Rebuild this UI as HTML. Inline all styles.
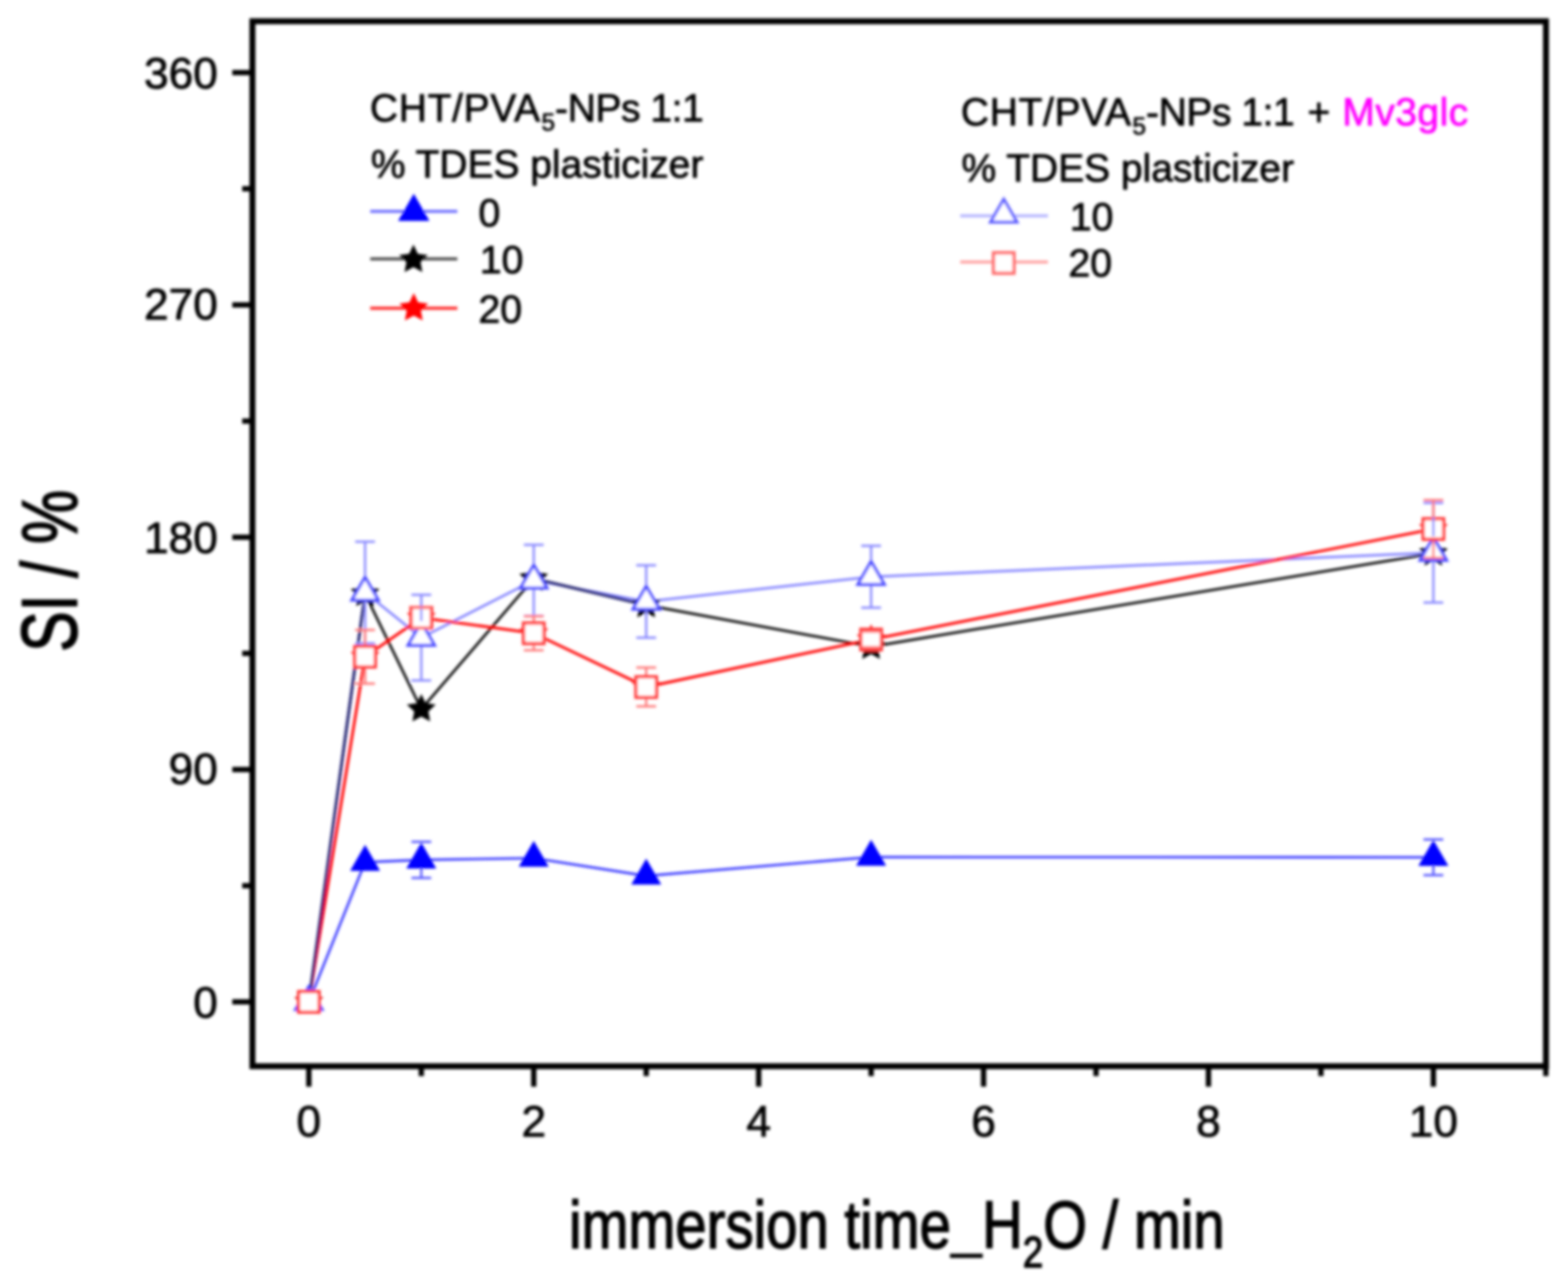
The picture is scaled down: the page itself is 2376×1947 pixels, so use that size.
<!DOCTYPE html>
<html><head><meta charset="utf-8"><title>SI vs immersion time</title>
<style>html,body{margin:0;padding:0;background:#fff;overflow:hidden;} svg{display:block;}</style>
</head><body>
<svg width="2376" height="1947" viewBox="0 0 2376 1947">
<defs><filter id="bl" x="0" y="0" width="2376" height="1947" filterUnits="userSpaceOnUse"><feGaussianBlur stdDeviation="2.0"/></filter></defs>
<rect width="2376" height="1947" fill="#ffffff"/>
<g filter="url(#bl)">
<path d="M352.0,1518.0H382.5M352.0,1166.0H382.5M352.0,814.0H382.5M352.0,462.0H382.5M352.0,110.0H382.5M367.0,1342.0H382.5M367.0,990.0H382.5M367.0,638.0H382.5M367.0,286.0H382.5M468.0,1615.5V1646.5M808.8,1615.5V1646.5M1149.6,1615.5V1646.5M1490.4,1615.5V1646.5M1831.2,1615.5V1646.5M2172.0,1615.5V1646.5M638.4,1615.5V1630.5M979.2,1615.5V1630.5M1320.0,1615.5V1630.5M1660.8,1615.5V1630.5M2001.6,1615.5V1630.5M2342.4,1615.5V1630.5" stroke="#000" stroke-width="8.0" fill="none"/>
<polyline points="468.0,1518.0 553.2,897.7 638.4,966.2 808.8,879.3 979.2,911.4 1320.0,873.9 2172.0,837.5" fill="none" stroke="#7c7cff" stroke-width="3.5" stroke-linejoin="round" stroke-linecap="round" />
<polyline points="468.0,1518.0 553.2,1306.4 638.4,1302.9 808.8,1300.2 979.2,1327.1 1320.0,1298.6 2172.0,1299.0" fill="none" stroke="#3434ff" stroke-width="3.6" stroke-linejoin="round" stroke-linecap="round" />
<polyline points="468.0,1518.0 553.2,899.7 638.4,1074.5 808.8,876.6 979.2,916.9 1320.0,979.8 2172.0,838.3" fill="none" stroke="#000000" stroke-width="3.7" stroke-linejoin="round" stroke-linecap="round" />
<polyline points="468.0,1518.0 553.2,995.1 638.4,936.0 808.8,959.5 979.2,1040.9 1320.0,968.9 2172.0,801.5" fill="none" stroke="#ff0000" stroke-width="4.1" stroke-linejoin="round" stroke-linecap="round" />
<path d="M468.0,1518.0L553.2,899.7M808.8,876.6L979.2,916.9" stroke="#1c1c70" stroke-width="4" fill="none" stroke-linecap="round"/>
<path d="M468.0,1495.0L474.6,1508.9L489.9,1510.9L478.7,1521.5L481.5,1536.6L468.0,1529.2L454.5,1536.6L457.3,1521.5L446.1,1510.9L461.4,1508.9Z" fill="#000"/>
<path d="M553.2,876.7L559.8,890.6L575.1,892.6L563.9,903.1L566.7,918.3L553.2,910.9L539.7,918.3L542.5,903.1L531.3,892.6L546.6,890.6Z" fill="#000"/>
<path d="M638.4,1051.5L645.0,1065.4L660.3,1067.4L649.1,1078.0L651.9,1093.1L638.4,1085.7L624.9,1093.1L627.7,1078.0L616.5,1067.4L631.8,1065.4Z" fill="#000"/>
<path d="M808.8,853.6L815.4,867.5L830.7,869.5L819.5,880.1L822.3,895.2L808.8,887.8L795.3,895.2L798.1,880.1L786.9,869.5L802.2,867.5Z" fill="#000"/>
<path d="M979.2,893.9L985.8,907.8L1001.1,909.8L989.9,920.3L992.7,935.5L979.2,928.1L965.7,935.5L968.5,920.3L957.3,909.8L972.6,907.8Z" fill="#000"/>
<path d="M1320.0,956.8L1326.6,970.8L1341.9,972.7L1330.7,983.3L1333.5,998.5L1320.0,991.0L1306.5,998.5L1309.3,983.3L1298.1,972.7L1313.4,970.8Z" fill="#000"/>
<path d="M2172.0,815.3L2178.6,829.2L2193.9,831.2L2182.7,841.7L2185.5,856.9L2172.0,849.5L2158.5,856.9L2161.3,841.7L2150.1,831.2L2165.4,829.2Z" fill="#000"/>
<path d="M553.2,1280.1L576.0,1319.5L530.5,1319.5Z" fill="#0000ff"/>
<path d="M638.4,1276.6L661.1,1316.0L615.6,1316.0Z" fill="#0000ff"/>
<path d="M808.8,1273.9L831.5,1313.3L786.0,1313.3Z" fill="#0000ff"/>
<path d="M979.2,1300.9L1002.0,1340.3L956.5,1340.3Z" fill="#0000ff"/>
<path d="M1320.0,1272.3L1342.8,1311.7L1297.2,1311.7Z" fill="#0000ff"/>
<path d="M2172.0,1272.7L2194.8,1312.1L2149.2,1312.1Z" fill="#0000ff"/>
<path d="M468.0,1495.0L474.6,1508.9L489.9,1510.9L478.7,1521.5L481.5,1536.6L468.0,1529.2L454.5,1536.6L457.3,1521.5L446.1,1510.9L461.4,1508.9Z" fill="#ff0000"/>
<path d="M553.2,972.1L559.8,986.0L575.1,988.0L563.9,998.6L566.7,1013.7L553.2,1006.3L539.7,1013.7L542.5,998.6L531.3,988.0L546.6,986.0Z" fill="#ff0000"/>
<path d="M638.4,913.0L645.0,927.0L660.3,928.9L649.1,939.5L651.9,954.7L638.4,947.2L624.9,954.7L627.7,939.5L616.5,928.9L631.8,927.0Z" fill="#ff0000"/>
<path d="M808.8,936.5L815.4,950.4L830.7,952.4L819.5,963.0L822.3,978.1L808.8,970.7L795.3,978.1L798.1,963.0L786.9,952.4L802.2,950.4Z" fill="#ff0000"/>
<path d="M979.2,1017.9L985.8,1031.8L1001.1,1033.8L989.9,1044.3L992.7,1059.5L979.2,1052.1L965.7,1059.5L968.5,1044.3L957.3,1033.8L972.6,1031.8Z" fill="#ff0000"/>
<path d="M1320.0,945.9L1326.6,959.8L1341.9,961.8L1330.7,972.4L1333.5,987.5L1320.0,980.1L1306.5,987.5L1309.3,972.4L1298.1,961.8L1313.4,959.8Z" fill="#ff0000"/>
<path d="M2172.0,778.5L2178.6,792.4L2193.9,794.4L2182.7,805.0L2185.5,820.1L2172.0,812.7L2158.5,820.1L2161.3,805.0L2150.1,794.4L2165.4,792.4Z" fill="#ff0000"/>
<path d="M468.0,1494.9L488.0,1529.5L448.0,1529.5Z" fill="#fff" stroke="#4a4aff" stroke-width="4.5" stroke-linejoin="miter"/>
<path d="M553.2,874.6L573.2,909.3L533.2,909.3Z" fill="#fff" stroke="#4a4aff" stroke-width="4.5" stroke-linejoin="miter"/>
<path d="M638.4,943.1L658.4,977.7L618.4,977.7Z" fill="#fff" stroke="#4a4aff" stroke-width="4.5" stroke-linejoin="miter"/>
<path d="M808.8,856.2L828.8,890.9L788.8,890.9Z" fill="#fff" stroke="#4a4aff" stroke-width="4.5" stroke-linejoin="miter"/>
<path d="M979.2,888.3L999.2,923.0L959.2,923.0Z" fill="#fff" stroke="#4a4aff" stroke-width="4.5" stroke-linejoin="miter"/>
<path d="M1320.0,850.8L1340.0,885.4L1300.0,885.4Z" fill="#fff" stroke="#4a4aff" stroke-width="4.5" stroke-linejoin="miter"/>
<path d="M2172.0,814.4L2192.0,849.0L2152.0,849.0Z" fill="#fff" stroke="#4a4aff" stroke-width="4.5" stroke-linejoin="miter"/>
<path d="M452.5,1502.5h31.0v31.0h-31.0Z" fill="#fff" stroke="#ff3a3a" stroke-width="5.0"/>
<path d="M537.7,979.6h31.0v31.0h-31.0Z" fill="#fff" stroke="#ff3a3a" stroke-width="5.0"/>
<path d="M622.9,920.5h31.0v31.0h-31.0Z" fill="#fff" stroke="#ff3a3a" stroke-width="5.0"/>
<path d="M793.3,944.0h31.0v31.0h-31.0Z" fill="#fff" stroke="#ff3a3a" stroke-width="5.0"/>
<path d="M963.7,1025.4h31.0v31.0h-31.0Z" fill="#fff" stroke="#ff3a3a" stroke-width="5.0"/>
<path d="M1304.5,953.4h31.0v31.0h-31.0Z" fill="#fff" stroke="#ff3a3a" stroke-width="5.0"/>
<path d="M2156.5,786.0h31.0v31.0h-31.0Z" fill="#fff" stroke="#ff3a3a" stroke-width="5.0"/>
<path d="M553.2,820.7V872.6M553.2,911.3V974.8M538.2,820.7H568.2M538.2,974.8H568.2M638.4,901.2V941.1M638.4,979.7V1031.1M623.4,901.2H653.4M623.4,1031.1H653.4M808.8,825.4V854.2M808.8,892.9V933.3M793.8,825.4H823.8M793.8,933.3H823.8M979.2,856.6V886.3M979.2,925.0V966.2M964.2,856.6H994.2M964.2,966.2H994.2M1320.0,826.9V848.8M1320.0,887.4V920.8M1305.0,826.9H1335.0M1305.0,920.8H1335.0M2172.0,762.0V812.4M2172.0,851.0V913.0M2157.0,762.0H2187.0M2157.0,913.0H2187.0" stroke="#8a8aff" stroke-width="3.5" fill="none"/>
<path d="M553.2,954.4V977.6M553.2,1012.6V1035.8M538.2,954.4H568.2M538.2,1035.8H568.2M623.4,920.4H653.4M623.4,951.7H653.4M808.8,933.7V942.0M808.8,977.0V985.3M793.8,933.7H823.8M793.8,985.3H823.8M979.2,1011.5V1023.4M979.2,1058.4V1070.2M964.2,1011.5H994.2M964.2,1070.2H994.2M1305.0,957.2H1335.0M1305.0,980.6H1335.0M2172.0,757.7V784.0M2172.0,819.0V845.3M2157.0,757.7H2187.0M2157.0,845.3H2187.0" stroke="#ff7a7a" stroke-width="3.5" fill="none"/>
<path d="M638.4,1275.5V1276.6M638.4,1316.0V1330.3M623.4,1275.5H653.4M623.4,1330.3H653.4M2172.0,1272.0V1272.7M2172.0,1312.1V1326.0M2157.0,1272.0H2187.0M2157.0,1326.0H2187.0" stroke="#5a5aff" stroke-width="3.5" fill="none"/>
<rect x="382.5" y="32.2" width="1960.1" height="1583.3" fill="none" stroke="#000" stroke-width="9.0"/>
<text x="330" y="1542.0" font-family="'Liberation Sans', Arial, Helvetica, sans-serif" stroke="#000" stroke-width="1.1" font-size="67" text-anchor="end" fill="#000">0</text>
<text x="330" y="1187.5" font-family="'Liberation Sans', Arial, Helvetica, sans-serif" stroke="#000" stroke-width="1.1" font-size="67" text-anchor="end" fill="#000">90</text>
<text x="330" y="837.5" font-family="'Liberation Sans', Arial, Helvetica, sans-serif" stroke="#000" stroke-width="1.1" font-size="67" text-anchor="end" fill="#000">180</text>
<text x="330" y="483.5" font-family="'Liberation Sans', Arial, Helvetica, sans-serif" stroke="#000" stroke-width="1.1" font-size="67" text-anchor="end" fill="#000">270</text>
<text x="330" y="134.0" font-family="'Liberation Sans', Arial, Helvetica, sans-serif" stroke="#000" stroke-width="1.1" font-size="67" text-anchor="end" fill="#000">360</text>
<text x="468.0" y="1722" font-family="'Liberation Sans', Arial, Helvetica, sans-serif" stroke="#000" stroke-width="1.1" font-size="67" text-anchor="middle" fill="#000">0</text>
<text x="808.8" y="1722" font-family="'Liberation Sans', Arial, Helvetica, sans-serif" stroke="#000" stroke-width="1.1" font-size="67" text-anchor="middle" fill="#000">2</text>
<text x="1149.6" y="1722" font-family="'Liberation Sans', Arial, Helvetica, sans-serif" stroke="#000" stroke-width="1.1" font-size="67" text-anchor="middle" fill="#000">4</text>
<text x="1490.4" y="1722" font-family="'Liberation Sans', Arial, Helvetica, sans-serif" stroke="#000" stroke-width="1.1" font-size="67" text-anchor="middle" fill="#000">6</text>
<text x="1831.2" y="1722" font-family="'Liberation Sans', Arial, Helvetica, sans-serif" stroke="#000" stroke-width="1.1" font-size="67" text-anchor="middle" fill="#000">8</text>
<text x="2172.0" y="1722" font-family="'Liberation Sans', Arial, Helvetica, sans-serif" stroke="#000" stroke-width="1.1" font-size="67" text-anchor="middle" fill="#000">10</text>
<text transform="translate(116,865) rotate(-90) scale(0.772,1)" font-family="'Liberation Sans', Arial, Helvetica, sans-serif" stroke="#000" stroke-width="1.1" font-size="119" text-anchor="middle" fill="#000" style="stroke-width:2.6px">SI / %</text>
<text transform="translate(1359,1891) scale(0.837,1)" font-family="'Liberation Sans', Arial, Helvetica, sans-serif" stroke="#000" stroke-width="1.1" font-size="102" text-anchor="middle" fill="#000" style="stroke-width:2.2px">immersion time<tspan dy="-5" style="stroke-width:0px">_</tspan><tspan dy="5">H</tspan><tspan font-size="66" dy="29">2</tspan><tspan dy="-29">O / min</tspan></text>
<text x="560.5" y="183.6" font-family="'Liberation Sans', Arial, Helvetica, sans-serif" stroke="#000" stroke-width="1.1" font-size="59" fill="#000"><tspan letter-spacing="1.1">CHT/PVA</tspan><tspan font-size="37" dy="14" dx="1">5</tspan><tspan dy="-14" letter-spacing="-0.6">-NPs 1:1</tspan></text>
<text x="562" y="269" font-family="'Liberation Sans', Arial, Helvetica, sans-serif" stroke="#000" stroke-width="1.1" font-size="59" fill="#000">% TDES plasticizer</text>
<path d="M561,320.3H693" stroke="#6c6cff" stroke-width="4.5"/>
<path d="M627.0,293.6L650.8,334.7L603.2,334.7Z" fill="#0000ff"/>
<text x="725" y="343" font-family="'Liberation Sans', Arial, Helvetica, sans-serif" stroke="#000" stroke-width="1.1" font-size="59.5" fill="#000">0</text>
<path d="M561,392.3H693" stroke="#4a4a4a" stroke-width="4.5"/>
<path d="M626.5,370.6L633.1,384.5L648.4,386.5L637.2,397.1L640.0,412.2L626.5,404.8L613.0,412.2L615.8,397.1L604.6,386.5L619.9,384.5Z" fill="#000"/>
<text x="727" y="414" font-family="'Liberation Sans', Arial, Helvetica, sans-serif" stroke="#000" stroke-width="1.1" font-size="59.5" fill="#000">10</text>
<path d="M561,467H693" stroke="#ff2424" stroke-width="4.5"/>
<path d="M627.0,444.0L633.6,457.9L648.9,459.9L637.7,470.5L640.5,485.6L627.0,478.2L613.5,485.6L616.3,470.5L605.1,459.9L620.4,457.9Z" fill="#ff0000"/>
<text x="725" y="489" font-family="'Liberation Sans', Arial, Helvetica, sans-serif" stroke="#000" stroke-width="1.1" font-size="59.5" fill="#000">20</text>
<text x="1456" y="189.8" font-family="'Liberation Sans', Arial, Helvetica, sans-serif" stroke="#000" stroke-width="1.1" font-size="59" fill="#000"><tspan letter-spacing="1.1">CHT/PVA</tspan><tspan font-size="37" dy="14" dx="1">5</tspan><tspan dy="-14" letter-spacing="-0.6">-NPs 1:1 </tspan><tspan dx="4">+ </tspan><tspan dx="2" fill="#ff00ff" stroke="#ff00ff" letter-spacing="0.8">Mv3glc</tspan></text>
<text x="1457" y="274.8" font-family="'Liberation Sans', Arial, Helvetica, sans-serif" stroke="#000" stroke-width="1.1" font-size="59" fill="#000">% TDES plasticizer</text>
<path d="M1455,326.9H1588" stroke="#b4b4ff" stroke-width="4.5"/>
<path d="M1521.0,301.9L1541.0,336.5L1501.0,336.5Z" fill="#fff" stroke="#5a5aff" stroke-width="4.5"/>
<text x="1621" y="349.4" font-family="'Liberation Sans', Arial, Helvetica, sans-serif" stroke="#000" stroke-width="1.1" font-size="59.5" fill="#000">10</text>
<path d="M1455,397H1588" stroke="#ffa0a0" stroke-width="4.5"/>
<path d="M1505.5,383.0h31v31h-31Z" fill="#fff" stroke="#ff6a6a" stroke-width="5"/>
<text x="1619" y="419.4" font-family="'Liberation Sans', Arial, Helvetica, sans-serif" stroke="#000" stroke-width="1.1" font-size="59.5" fill="#000">20</text>
</g>
</svg>
</body></html>
